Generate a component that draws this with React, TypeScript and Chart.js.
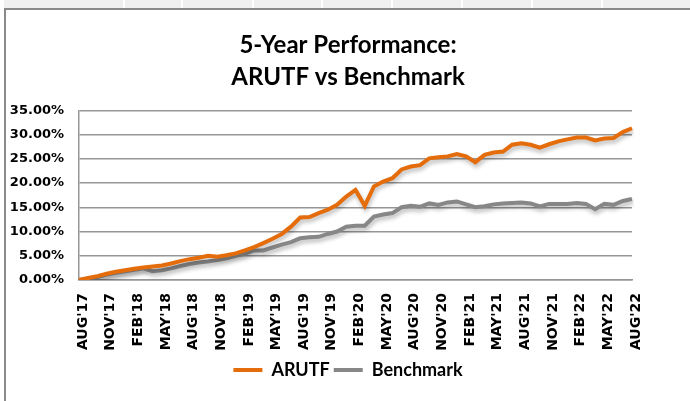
import React, { useEffect, useRef } from "react";
import { Chart, registerables } from "chart.js";

Chart.register(...registerables);

const categories: string[] = [
  "AUG'17", "SEP'17", "OCT'17", "NOV'17", "DEC'17",
  "JAN'18", "FEB'18", "MAR'18", "APR'18", "MAY'18", "JUN'18", "JUL'18", "AUG'18", "SEP'18", "OCT'18", "NOV'18", "DEC'18",
  "JAN'19", "FEB'19", "MAR'19", "APR'19", "MAY'19", "JUN'19", "JUL'19", "AUG'19", "SEP'19", "OCT'19", "NOV'19", "DEC'19",
  "JAN'20", "FEB'20", "MAR'20", "APR'20", "MAY'20", "JUN'20", "JUL'20", "AUG'20", "SEP'20", "OCT'20", "NOV'20", "DEC'20",
  "JAN'21", "FEB'21", "MAR'21", "APR'21", "MAY'21", "JUN'21", "JUL'21", "AUG'21", "SEP'21", "OCT'21", "NOV'21", "DEC'21",
  "JAN'22", "FEB'22", "MAR'22", "APR'22", "MAY'22", "JUN'22", "JUL'22", "AUG'22",
];

const tickLabels: string[] = [
  "AUG'17", "NOV'17", "FEB'18", "MAY'18", "AUG'18", "NOV'18", "FEB'19", "MAY'19", "AUG'19", "NOV'19", "FEB'20",
  "MAY'20", "AUG'20", "NOV'20", "FEB'21", "MAY'21", "AUG'21", "NOV'21", "FEB'22", "MAY'22", "AUG'22",
];

const arutf: number[] = [
  0, 0.4, 0.8, 1.3, 1.7,
  2.0, 2.3, 2.6, 2.8, 3.0, 3.4, 3.9, 4.3, 4.6, 5.0, 4.8, 5.1,
  5.5, 6.1, 6.8, 7.6, 8.5, 9.5, 11.0, 12.9, 13.0, 13.8, 14.5, 15.5,
  17.2, 18.6, 15.3, 19.3, 20.3, 21.0, 22.8, 23.4, 23.7, 25.1, 25.3, 25.5,
  26.0, 25.5, 24.3, 25.8, 26.3, 26.5, 27.9, 28.2, 27.9, 27.3, 28.0, 28.6,
  29.0, 29.4, 29.4, 28.8, 29.2, 29.3, 30.5, 31.3,
];

const benchmark: number[] = [
  0, 0.3, 0.6, 1.1, 1.5,
  1.8, 2.1, 2.4, 1.8, 2.0, 2.4, 2.9, 3.3, 3.6, 3.8, 4.1, 4.5,
  5.0, 5.4, 6.1, 6.1, 6.7, 7.3, 7.8, 8.6, 8.8, 8.9, 9.5, 10.0,
  11.0, 11.2, 11.2, 13.1, 13.5, 13.8, 15.0, 15.3, 15.1, 15.8, 15.5, 16.0,
  16.2, 15.6, 15.0, 15.2, 15.6, 15.8, 15.9, 16.0, 15.8, 15.2, 15.7, 15.7,
  15.7, 15.9, 15.7, 14.6, 15.7, 15.5, 16.3, 16.7,
];

const seriesNames = ["ARUTF", "Benchmark"];
const seriesColors = ["#E46C0A", "#878787"];
const titleLines = ["5-Year Performance:", "ARUTF vs Benchmark"];
const headerSeparators = [123, 181, 252, 321, 391, 461, 531, 601];

const shadowPlugin = {
  id: "lineShadow",
  beforeDatasetsDraw(chart: any) {
    const ctx = chart.ctx;
    ctx.save();
    ctx.shadowColor = "rgba(0,0,0,0.28)";
    ctx.shadowBlur = 4;
    ctx.shadowOffsetX = 1;
    ctx.shadowOffsetY = 3;
  },
  afterDatasetsDraw(chart: any) {
    chart.ctx.restore();
  },
};

const centerShiftPlugin = {
  id: "centerShift",
  afterLayout(chart: any) {
    const boxes = [chart.legend, chart.titleBlock];
    boxes.forEach((b: any) => {
      if (b) {
        b.left += 29;
        b.right += 29;
      }
    });
  },
};

export default function App() {
  const canvasRef = useRef<HTMLCanvasElement | null>(null);

  useEffect(() => {
    document.body.style.margin = "0";
    const canvas = canvasRef.current;
    if (!canvas) return;
    const chart = new Chart(canvas, {
      type: "line",
      data: {
        labels: categories,
        datasets: [
          {
            label: seriesNames[0],
            data: arutf,
            borderColor: seriesColors[0],
            backgroundColor: seriesColors[0],
            borderWidth: 4,
            pointRadius: 0,
            tension: 0,
          },
          {
            label: seriesNames[1],
            data: benchmark,
            borderColor: seriesColors[1],
            backgroundColor: seriesColors[1],
            borderWidth: 4,
            pointRadius: 0,
            tension: 0,
          },
        ],
      },
      options: {
        animation: false,
        responsive: false,
        maintainAspectRatio: false,
        layout: { padding: { left: 0, right: 58, top: 0, bottom: 12 } },
        plugins: {
          tooltip: { enabled: false },
          title: {
            display: true,
            text: titleLines,
            color: "#000",
            font: { family: "Lato", weight: "bold", size: 24, lineHeight: 1.34 },
            padding: { top: 19, bottom: 17 },
          },
          legend: {
            position: "bottom",
            labels: {
              color: "#000",
              font: { family: "Lato", weight: "bold", size: 18 },
              boxWidth: 29,
              boxHeight: 4,
              padding: 4,
              generateLabels: (c: any) =>
                c.data.datasets.map((ds: any, i: number) => ({
                  text: ds.label,
                  fillStyle: ds.borderColor,
                  strokeStyle: ds.borderColor,
                  lineWidth: 0,
                  hidden: false,
                  datasetIndex: i,
                  fontColor: "#000",
                })),
            },
          },
        },
        scales: {
          x: {
            type: "category",
            offset: false,
            grid: { display: false, drawTicks: false },
            border: { display: true, color: "#969696", width: 1.5 },
            afterFit: (s: any) => {
              s.height = 77;
            },
            ticks: {
              autoSkip: false,
              minRotation: 90,
              maxRotation: 90,
              padding: 13,
              labelOffset: 4,
              color: "#000",
              font: { family: "DejaVu Sans", weight: "bold", size: 14 },
              callback: (_v: any, i: number) =>
                tickLabels.includes(categories[i]) ? categories[i] : "",
            },
          },
          y: {
            min: 0,
            max: 35,
            grid: { color: "#969696", lineWidth: 1.5, drawTicks: false },
            border: { display: true, color: "#969696", width: 1.5 },
            afterFit: (s: any) => {
              s.width = 73;
            },
            ticks: {
              stepSize: 5,
              padding: 15,
              color: "#000",
              font: { family: "DejaVu Sans", weight: "bold", size: 13 },
              callback: (v: any) => Number(v).toFixed(2) + "%",
            },
          },
        },
      },
      plugins: [shadowPlugin, centerShiftPlugin],
    } as any);
    return () => chart.destroy();
  }, []);

  return (
    <div style={{ position: "relative", width: 690, height: 401, background: "#fff", overflow: "hidden" }}>
      <div style={{ position: "absolute", left: 0, top: 0, width: 690, height: 8, background: "#f0f0f0" }} />
      {headerSeparators.map((x) => (
        <div key={x} style={{ position: "absolute", left: x, top: 0, width: 2, height: 8, background: "#fff" }} />
      ))}
      <div style={{ position: "absolute", left: 0, top: 0, width: 4, height: 8, background: "#fff" }} />
      <div style={{ position: "absolute", left: 4, top: 8, width: 686, height: 2, background: "#8a8a8a" }} />
      <div style={{ position: "absolute", left: 4, top: 8, width: 2, height: 393, background: "#8a8a8a" }} />
      <canvas ref={canvasRef} width={684} height={391} style={{ position: "absolute", left: 6, top: 10 }} />
    </div>
  );
}
